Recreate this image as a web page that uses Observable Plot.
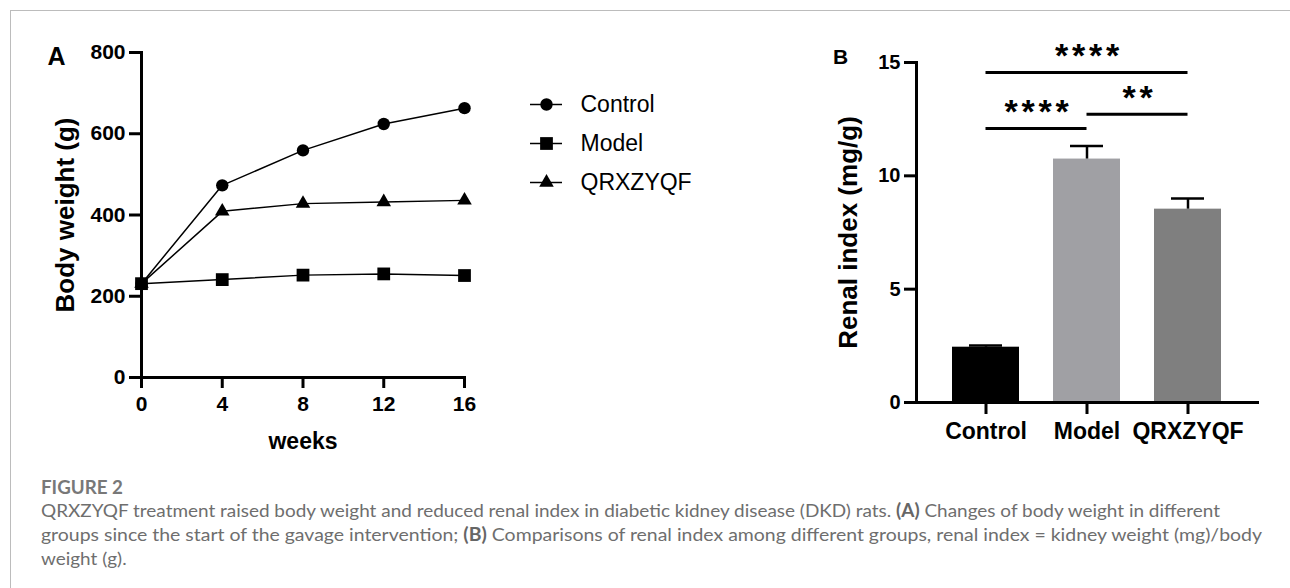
<!DOCTYPE html>
<html>
<head>
<meta charset="utf-8">
<script src="https://cdn.jsdelivr.net/npm/d3@7"></script>
<script src="https://cdn.jsdelivr.net/npm/@observablehq/plot@0.6"></script>
<style>
  html, body { margin: 0; padding: 0; background: #fff; }
  #page { position: relative; width: 1290px; height: 588px; overflow: hidden; background: #fff; }
  #border { position: absolute; left: 10px; top: 10px; width: 1300px; height: 600px;
            border-top: 1px solid #bcbcbc; border-left: 1px solid #bcbcbc; }
  .abs { position: absolute; }
  .cap { position: absolute; left: 41px; white-space: nowrap; font-family: Lato, "Open Sans", sans-serif;
         font-size: 18px; line-height: 24px; color: #6e6e6e; transform-origin: 0 50%; }
  .cap b { color: #666; }
  #figlabel { font-weight: 700; color: #787878; }
</style>
</head>
<body>
<div id="page">
  <div id="border"></div>
  <div id="panelA" class="abs" style="left:0;top:0"></div>
  <div id="legend" class="abs" style="left:500px;top:60px"></div>
  <div id="panelB" class="abs" style="left:780px;top:0"></div>
  <div class="cap" id="figlabel" style="top:475px">FIGURE 2</div>
  <div class="cap" id="cap1" style="top:498px">QRXZYQF treatment raised body weight and reduced renal index in diabetic kidney disease (DKD) rats. <b>(A)</b> Changes of body weight in different</div>
  <div class="cap" id="cap2" style="top:522px">groups since the start of the gavage intervention; <b>(B)</b> Comparisons of renal index among different groups, renal index = kidney weight (mg)/body</div>
  <div class="cap" id="cap3" style="top:546px">weight (g).</div>
</div>
<script>
// ---------------- data ----------------
const groups = ["Control", "Model", "QRXZYQF"];
const weeks = [0, 4, 8, 12, 16];
const controlWeight = [231, 473, 559, 624, 663];
const modelWeight = [231, 241, 252, 255, 251];
const qrxzyqfWeight = [231, 409, 428, 432, 436];
const weekTicks = [0, 4, 8, 12, 16];
const weightTicks = [0, 200, 400, 600, 800];

const renalMean = [2.44, 10.74, 8.53];
const renalUpper = [2.51, 11.32, 9.0];
const renalTicks = [0, 5, 10, 15];
const barColors = ["#000000", "#a0a0a4", "#7f7f7f"];

const sigFrom = ["Control", "Control", "Model"];
const sigTo = ["QRXZYQF", "Model", "QRXZYQF"];
const sigLevel = [14.56, 12.09, 12.72];
const sigLabel = ["****", "****", "**"];

// ---------------- styles ----------------
const FONT = '"Liberation Sans", Arial, Helvetica, sans-serif';
const baseStyle = {fontFamily: FONT, color: "#000", background: "transparent", overflow: "visible"};
const symbols = {Control: "circle", Model: "square", QRXZYQF: "triangle"};
const symbolR = {Control: 6.2, Model: 7.2, QRXZYQF: 5.4};
const drawOrder = ["Control", "QRXZYQF", "Model"];

function setTickFont(svg, size) {
  d3.select(svg).selectAll('g[aria-label$="tick label"]').attr("font-size", size)
    .selectAll("text").attr("font-size", size);
}

// ---------------- panel A ----------------
const seriesWeights = [controlWeight, modelWeight, qrxzyqfWeight];
const weightRows = [];
groups.forEach((g, gi) => weeks.forEach((w, i) => weightRows.push({group: g, week: w, weight: seriesWeights[gi][i]})));

const plotA = Plot.plot({
  width: 480, height: 470,
  marginLeft: 141, marginRight: 16, marginTop: 52, marginBottom: 93,
  style: baseStyle,
  x: {domain: [0, 16]},
  y: {domain: [0, 800]},
  marks: [
    Plot.line(weightRows, {x: "week", y: "weight", z: "group", stroke: "#000", strokeWidth: 1.5}),
    ...drawOrder.map(g => Plot.dot(weightRows.filter(d => d.group === g),
      {x: "week", y: "weight", symbol: symbols[g], r: symbolR[g], fill: "#000", stroke: "none"})),
    Plot.frame({anchor: "left", strokeWidth: 3, strokeLinecap: "square"}),
    Plot.frame({anchor: "bottom", strokeWidth: 3, strokeLinecap: "square"}),
    Plot.axisX({ticks: weekTicks, tickSize: 11, tickPadding: 8, fontSize: 21, fontWeight: "bold", strokeWidth: 3, label: null}),
    Plot.axisY({ticks: weightTicks, tickSize: 12, tickPadding: 4, fontSize: 21, fontWeight: "bold", strokeWidth: 3, label: null}),
    Plot.text(["Body weight (g)"], {frameAnchor: "left", dx: -76, rotate: -90, textAnchor: "middle", lineAnchor: "middle", fontSize: 26, fontWeight: "bold"}),
    Plot.text(["weeks"], {frameAnchor: "bottom", dy: 64, textAnchor: "middle", lineAnchor: "middle", fontSize: 23, fontWeight: "bold"}),
    Plot.text(["A"], {frameAnchor: "top-left", dx: -85, dy: 4, textAnchor: "middle", lineAnchor: "middle", fontSize: 25, fontWeight: "bold"})
  ]
});
setTickFont(plotA, 21);
document.getElementById("panelA").appendChild(plotA);

// ---------------- legend ----------------
const legendPlot = Plot.plot({
  width: 250, height: 160,
  marginLeft: 30, marginRight: 188, marginTop: 43, marginBottom: 38,
  style: baseStyle,
  y: {type: "point", domain: groups, padding: 0, axis: null},
  marks: [
    Plot.tickY(groups, {y: d => d, stroke: "#000", strokeWidth: 1.5}),
    ...groups.map(g => Plot.dot([g], {y: d => d, symbol: symbols[g], r: symbolR[g], fill: "#000", stroke: "none"})),
    Plot.text(groups, {y: d => d, text: d => d, frameAnchor: "right", textAnchor: "start", lineAnchor: "middle", dx: 18, fontSize: 23})
  ]
});
document.getElementById("legend").appendChild(legendPlot);

// ---------------- panel B ----------------
const renalRows = groups.map((g, i) => ({group: g, mean: renalMean[i], upper: renalUpper[i], color: barColors[i]}));
const sigRows = sigLabel.map((s, i) => ({from: sigFrom[i], to: sigTo[i], level: sigLevel[i], label: s}));

function buildB(step, bw) {
  return Plot.plot({
    width: 500, height: 470,
    marginLeft: 136, marginRight: 23, marginTop: 62, marginBottom: 68,
    style: baseStyle,
    x: {domain: groups, paddingInner: 0.34, paddingOuter: 0.35},
    y: {domain: [0, 15]},
    color: {type: "identity"},
    marks: [
      Plot.barY(renalRows, {x: "group", y: "mean", fill: "color"}),
      Plot.ruleX(renalRows, {x: "group", y1: "mean", y2: "upper", stroke: "#000", strokeWidth: 2.5}),
      Plot.tickY(renalRows, {x: "group", y: "upper", stroke: "#000", strokeWidth: 2.5, insetLeft: 17, insetRight: 17}),
      Plot.frame({anchor: "left", strokeWidth: 3, strokeLinecap: "square"}),
      Plot.frame({anchor: "bottom", strokeWidth: 3, strokeLinecap: "square"}),
      Plot.axisX({tickSize: 12, tickPadding: 8, fontSize: 23, fontWeight: "bold", strokeWidth: 3, label: null}),
      Plot.axisY({ticks: renalTicks, tickSize: 12, tickPadding: 4, fontSize: 20, fontWeight: "bold", strokeWidth: 3, label: null}),
      Plot.ruleY(sigRows, {y: "level", x1: "from", x2: "to", stroke: "#000", strokeWidth: 3, insetLeft: bw / 2, insetRight: bw / 2}),
      ...sigRows.map(s => Plot.text([s], {
        x: "from", y: "level", text: "label",
        dx: step * (groups.indexOf(s.to) - groups.indexOf(s.from)) / 2 + 2,
        dy: -16, fontSize: 34, fontWeight: "bold", textAnchor: "middle", lineAnchor: "middle"
      })),
      Plot.text(["Renal index (mg/g)"], {frameAnchor: "left", dx: -68, rotate: -90, textAnchor: "middle", lineAnchor: "middle", fontSize: 26, fontWeight: "bold"}),
      Plot.text(["B"], {frameAnchor: "top-left", dx: -76, dy: -5, textAnchor: "middle", lineAnchor: "middle", fontSize: 21, fontWeight: "bold"})
    ]
  });
}
const probe = buildB(0, 0);
const xs = probe.scale("x");
const plotB = buildB(xs.step, xs.bandwidth);
d3.select(plotB).selectAll("text").filter(function() { return /^\*+$/.test(this.textContent); })
  .attr("letter-spacing", "3.8px");
setTickFont(plotB, null);
d3.select(plotB).selectAll('g[aria-label="y-axis tick label"]').attr("font-size", 20).selectAll("text").attr("font-size", 20);
d3.select(plotB).selectAll('g[aria-label="x-axis tick label"]').attr("font-size", 23).selectAll("text").attr("font-size", 23);
document.getElementById("panelB").appendChild(plotB);

// ---------------- caption fitting ----------------
function fit(id, target) {
  const el = document.getElementById(id);
  const w = el.getBoundingClientRect().width;
  const s = target / w;
  el.style.transform = `scaleX(${s})`;
  return s;
}
const s1 = fit("cap1", 1179);
fit("cap2", 1221);
document.getElementById("cap3").style.transform = `scaleX(${s1})`;
fit("figlabel", 82);
</script>
</body>
</html>
